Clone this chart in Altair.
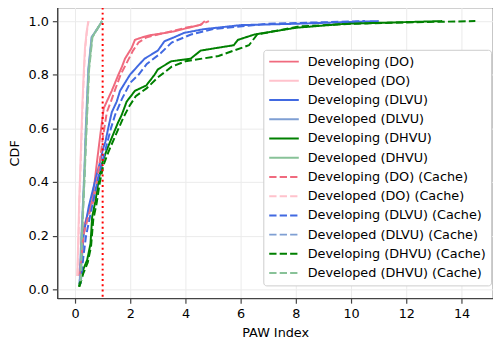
import altair as alt
import pandas as pd

series_names = [
    "Developing (DO)", "Developed (DO)", "Developing (DLVU)", "Developed (DLVU)",
    "Developing (DHVU)", "Developed (DHVU)",
    "Developing (DO) (Cache)", "Developed (DO) (Cache)", "Developing (DLVU) (Cache)",
    "Developed (DLVU) (Cache)", "Developing (DHVU) (Cache)", "Developed (DHVU) (Cache)",
]
series_colors = [
    "#f06a7e", "#ffc2cc", "#4169e1", "#7f9fd3", "#008000", "#88c298",
    "#f06a7e", "#ffc2cc", "#4169e1", "#7f9fd3", "#008000", "#88c298",
]
series_dash = [[1, 0]] * 6 + [[7.4, 3.2]] * 6

dev_do_x = [0.14, 0.22, 0.26, 0.4, 0.55, 0.62, 0.72, 0.8, 0.86, 0.92, 1.04, 1.15, 1.33, 1.45, 1.57, 1.7, 1.81, 1.93, 2.05, 2.17, 2.45, 2.76, 3.2, 3.6, 4.1, 4.55, 4.7]
dev_do_y = [0.05, 0.12, 0.21, 0.26, 0.31, 0.33, 0.41, 0.48, 0.53, 0.58, 0.675, 0.7, 0.74, 0.77, 0.8, 0.83, 0.86, 0.88, 0.9, 0.93, 0.94, 0.948, 0.955, 0.962, 0.975, 0.986, 1.0]
dvd_do_x = [0.08, 0.12, 0.15, 0.19, 0.23, 0.27, 0.32, 0.36, 0.42, 0.48]
dvd_do_y = [0.05, 0.2, 0.33, 0.45, 0.58, 0.7, 0.82, 0.9, 0.96, 1.0]
dev_dlvu_x = [0.16, 0.25, 0.32, 0.5, 0.62, 0.74, 0.92, 1.0, 1.1, 1.2, 1.33, 1.51, 1.63, 1.87, 1.99, 2.25, 2.52, 3.0, 3.24, 3.6, 3.95, 4.67, 6.0, 8.0, 9.5, 11.0]
dev_dlvu_y = [0.02, 0.12, 0.21, 0.31, 0.36, 0.41, 0.48, 0.52, 0.55, 0.6, 0.66, 0.7, 0.74, 0.78, 0.8, 0.83, 0.86, 0.89, 0.925, 0.94, 0.956, 0.97, 0.985, 0.99, 0.995, 1.0]
dvd_dlvu_x = [0.17, 0.22, 0.29, 0.34, 0.38, 0.43, 0.48, 0.54, 0.6, 0.8, 0.98]
dvd_dlvu_y = [0.03, 0.18, 0.33, 0.45, 0.58, 0.7, 0.82, 0.88, 0.94, 0.97, 1.0]
dev_dhvu_x = [0.14, 0.26, 0.44, 0.56, 0.62, 0.74, 0.86, 0.98, 1.15, 1.39, 1.55, 1.69, 1.87, 2.17, 2.58, 2.88, 3.0, 3.48, 4.19, 4.55, 5.14, 5.75, 5.9, 6.5, 8.0, 9.8, 13.3]
dev_dhvu_y = [0.01, 0.065, 0.11, 0.17, 0.27, 0.33, 0.41, 0.47, 0.52, 0.58, 0.62, 0.65, 0.7, 0.74, 0.76, 0.8, 0.82, 0.85, 0.86, 0.89, 0.9, 0.91, 0.93, 0.95, 0.975, 0.99, 1.0]
dvd_dhvu_x = [0.2, 0.24, 0.3, 0.35, 0.4, 0.45, 0.5, 0.56, 0.62, 0.8, 0.98]
dvd_dhvu_y = [0.03, 0.18, 0.33, 0.45, 0.58, 0.7, 0.82, 0.88, 0.94, 0.97, 1.0]

dev_do_c_x = [0.18, 0.3, 0.45, 0.6, 0.68, 0.8, 0.9, 1.0, 1.15, 1.3, 1.4, 1.65, 1.9, 2.1, 2.3, 2.6, 3.0, 3.5, 4.0, 4.5, 4.85]
dev_do_c_y = [0.05, 0.2, 0.26, 0.31, 0.33, 0.41, 0.48, 0.56, 0.66, 0.7, 0.73, 0.8, 0.85, 0.89, 0.92, 0.94, 0.95, 0.962, 0.975, 0.985, 1.0]
dvd_do_c_x = [0.09, 0.13, 0.16, 0.2, 0.24, 0.28, 0.33, 0.37, 0.43, 0.49]
dvd_do_c_y = [0.05, 0.2, 0.33, 0.45, 0.58, 0.7, 0.82, 0.9, 0.96, 1.0]
dev_dlvu_c_x = [0.2, 0.3, 0.4, 0.6, 0.72, 0.85, 1.0, 1.2, 1.3, 1.45, 1.7, 2.0, 2.3, 2.6, 3.1, 3.5, 4.2, 5.0, 7.0, 10.5]
dev_dlvu_c_y = [0.02, 0.12, 0.2, 0.3, 0.36, 0.42, 0.48, 0.56, 0.6, 0.65, 0.71, 0.77, 0.8, 0.84, 0.88, 0.92, 0.95, 0.97, 0.99, 1.0]
dvd_dlvu_c_x = [0.18, 0.23, 0.3, 0.35, 0.39, 0.44, 0.49, 0.55, 0.61, 0.8, 0.98]
dvd_dlvu_c_y = [0.03, 0.18, 0.33, 0.45, 0.58, 0.7, 0.82, 0.88, 0.94, 0.97, 1.0]
dev_dhvu_c_x = [0.16, 0.3, 0.46, 0.58, 0.66, 0.78, 0.9, 1.02, 1.2, 1.45, 1.75, 1.95, 2.2, 2.6, 3.0, 3.5, 4.0, 4.6, 5.2, 6.3, 6.6, 8.1, 10.0, 12.0, 14.5]
dev_dhvu_c_y = [0.01, 0.06, 0.1, 0.16, 0.26, 0.32, 0.4, 0.46, 0.51, 0.57, 0.64, 0.68, 0.72, 0.75, 0.79, 0.83, 0.85, 0.86, 0.87, 0.91, 0.95, 0.98, 0.99, 0.995, 1.0]
dvd_dhvu_c_x = [0.21, 0.25, 0.31, 0.36, 0.41, 0.46, 0.51, 0.57, 0.63, 0.8, 0.98]
dvd_dhvu_c_y = [0.03, 0.18, 0.33, 0.45, 0.58, 0.7, 0.82, 0.88, 0.94, 0.97, 1.0]

all_x = [dev_do_x, dvd_do_x, dev_dlvu_x, dvd_dlvu_x, dev_dhvu_x, dvd_dhvu_x,
         dev_do_c_x, dvd_do_c_x, dev_dlvu_c_x, dvd_dlvu_c_x, dev_dhvu_c_x, dvd_dhvu_c_x]
all_y = [dev_do_y, dvd_do_y, dev_dlvu_y, dvd_dlvu_y, dev_dhvu_y, dvd_dhvu_y,
         dev_do_c_y, dvd_do_c_y, dev_dlvu_c_y, dvd_dlvu_c_y, dev_dhvu_c_y, dvd_dhvu_c_y]

threshold = [1.0]
x_ticks = [0, 2, 4, 6, 8, 10, 12, 14]
y_ticks = [0.0, 0.2, 0.4, 0.6, 0.8, 1.0]

rows = []
for name, xs, ys in zip(series_names, all_x, all_y):
    for i, (xv, yv) in enumerate(zip(xs, ys)):
        rows.append({"series": name, "x": xv, "y": yv, "i": i})
df = pd.DataFrame(rows)

FONT = "DejaVu Sans"
xscale = alt.Scale(domain=[-0.643, 15.14], nice=False, zero=False)
yscale = alt.Scale(domain=[-0.033, 1.051], nice=False, zero=False)

lines = alt.Chart(df).mark_line(strokeWidth=2, clip=True).encode(
    x=alt.X("x:Q", scale=xscale, title="PAW Index",
            axis=alt.Axis(values=x_ticks, format="d")),
    y=alt.Y("y:Q", scale=yscale, title="CDF",
            axis=alt.Axis(values=y_ticks, format=".1f")),
    color=alt.Color("series:N", scale=alt.Scale(domain=series_names, range=series_colors),
                    legend=alt.Legend(title=None)),
    strokeDash=alt.StrokeDash("series:N", scale=alt.Scale(domain=series_names, range=series_dash),
                              legend=alt.Legend(title=None)),
    order="i:Q",
)

vline = alt.Chart(pd.DataFrame({"t": threshold})).mark_rule(
    color="#ff0000", strokeWidth=2, strokeDash=[2, 3.3]
).encode(x=alt.X("t:Q", scale=xscale))

chart = alt.layer(lines, vline).properties(
    width=442, height=295,
    autosize=alt.AutoSizeParams(type="none"),
    padding={"left": 50, "top": -3, "right": 0, "bottom": 40},
).configure_view(
    stroke="#444444", strokeWidth=1.2
).configure_axis(
    labelFont=FONT, titleFont=FONT, labelFontSize=13, titleFontSize=13,
    labelColor="#000000", titleColor="#000000", titleFontWeight="normal",
    gridColor="#ebebeb", gridWidth=1, domainColor="#444444", domainWidth=1.2,
    tickColor="#444444", tickSize=5, tickWidth=1.2, labelPadding=4,
).configure_axisX(
    titlePadding=6, labelPadding=5
).configure_axisY(
    titlePadding=7
).configure_legend(
    orient="none", legendX=209, legendY=43,
    symbolType="stroke", symbolStrokeWidth=2, symbolSize=900,
    labelFont=FONT, labelFontSize=13, labelColor="#000000", labelLimit=400,
    fillColor="#ffffff", strokeColor="#cccccc", cornerRadius=3,
    padding=5, labelOffset=8, rowPadding=5.5, clipHeight=14, symbolOffset=0,
)

chart.save("out.html", embed_options={"renderer": "svg", "actions": False})
